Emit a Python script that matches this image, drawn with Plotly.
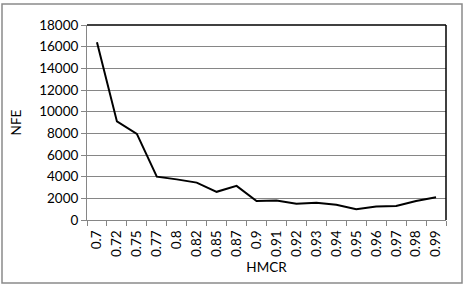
import plotly.graph_objects as go

hmcr = ["0.7", "0.72", "0.75", "0.77", "0.8", "0.82", "0.85", "0.87", "0.9",
        "0.91", "0.92", "0.93", "0.94", "0.95", "0.96", "0.97", "0.98", "0.99"]
nfe = [16400, 9100, 7950, 4000, 3750, 3450, 2600, 3150, 1750,
       1800, 1500, 1600, 1400, 1000, 1250, 1300, 1750, 2100]
y_ticks = list(range(0, 18001, 2000))

fig = go.Figure()
fig.add_trace(go.Scatter(x=hmcr, y=nfe, mode="lines",
                         line=dict(color="black", width=2)))

font = dict(family="Lato, Carlito, Calibri, sans-serif", size=13.5, color="#000")

fig.update_layout(
    width=465, height=284,
    margin=dict(l=87, r=19, t=25, b=64),
    paper_bgcolor="white", plot_bgcolor="white",
    showlegend=False,
    font=font,
    xaxis=dict(
        type="category", tickson="boundaries", tickangle=-90,
        range=[-0.5, len(hmcr) - 0.5],
        ticks="outside", ticklen=5, tickcolor="#868686",
        ticklabelstandoff=4,
        showline=True, linecolor="#868686", linewidth=1,
        showgrid=False, tickfont=font,
        title=dict(text="HMCR", font=font, standoff=6),
    ),
    yaxis=dict(
        range=[0, 18000], tickvals=y_ticks, tickformat="d",
        ticks="outside", ticklen=5, tickcolor="#868686",
        showline=True, linecolor="#868686", linewidth=1,
        showgrid=True, gridcolor="#868686", gridwidth=1,
        zeroline=False, tickfont=font,
        title=dict(text="NFE", font=font, standoff=14),
    ),
    shapes=[
        dict(type="line", xref="paper", yref="paper", x0=0, x1=1, y0=1, y1=1,
             line=dict(color="black", width=1.5)),
        dict(type="line", xref="paper", yref="paper", x0=1, x1=1, y0=0, y1=1,
             line=dict(color="black", width=1.5)),
        dict(type="rect", xref="paper", yref="paper",
             x0=-85 / 359, x1=1 + 16 / 359, y0=-63 / 195, y1=1 + 21 / 195,
             line=dict(color="#8a8a8a", width=1.5)),
    ],
)

fig.write_html("out.html")
